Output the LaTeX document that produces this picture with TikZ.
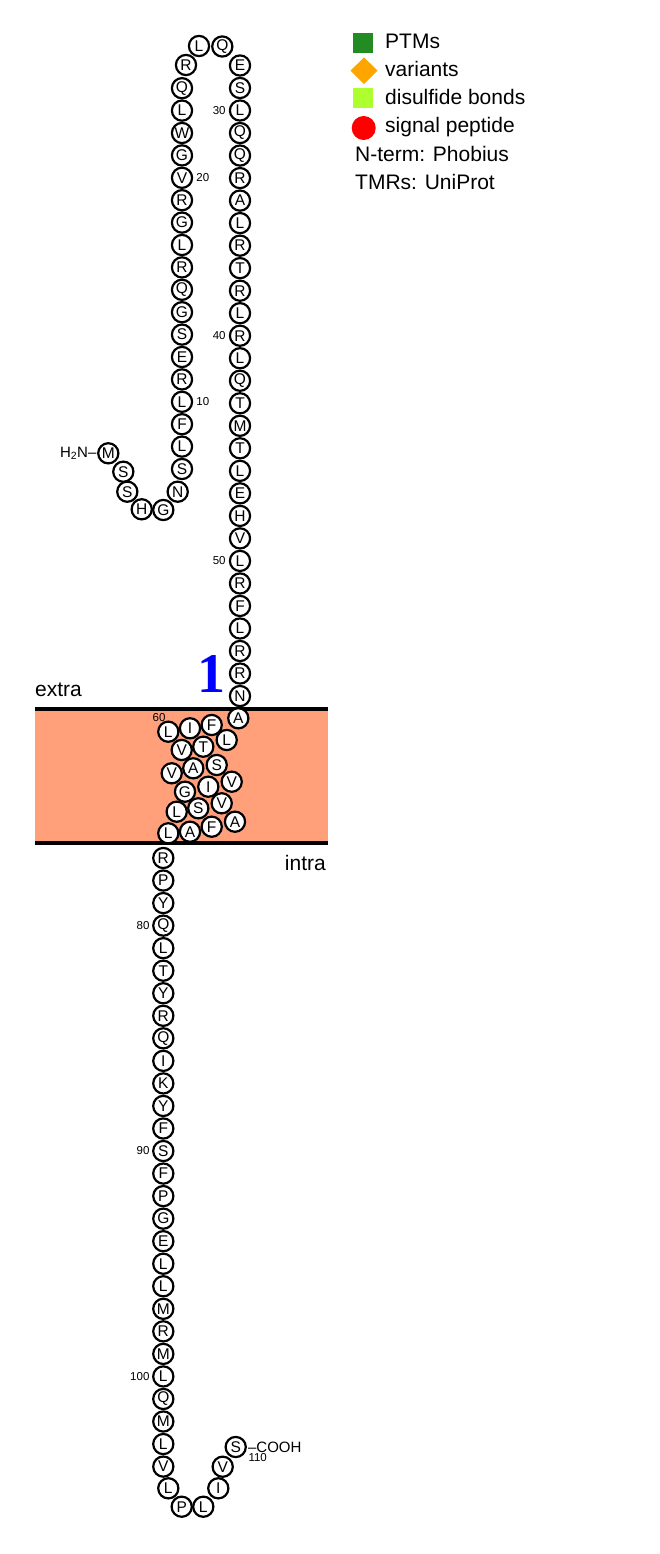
\documentclass[tikz,border=0pt]{standalone}
\usepackage{fontspec}
\setmainfont{Liberation Sans}
\newfontfamily\helixfont{Liberation Serif}
\usetikzlibrary{positioning}
\definecolor{membrane}{RGB}{255,160,122}
\definecolor{ptmgreen}{RGB}{34,139,34}
\definecolor{varorange}{RGB}{255,165,0}
\definecolor{sslime}{RGB}{173,255,47}
\definecolor{sigred}{RGB}{255,0,0}

\begin{document}
\begin{tikzpicture}[x=1pt,y=-1pt,
    res/.style={circle,draw,fill=white,line width=2.2pt,minimum size=20.2pt,inner sep=0pt,font=\fontsize{15.5}{15.5}\selectfont},
    num/.style={inner sep=0.5pt,font=\fontsize{11.5}{11.5}\selectfont},
    lgd/.style={anchor=base west,inner sep=0pt,font=\fontsize{21}{21}\selectfont}]
    \useasboundingbox (0,0) rectangle (660,1554);
    % membrane
    \fill[membrane] (35,708.7) rectangle (328,842.7);
    \draw[line width=4pt] (35,708.7) -- (328,708.7);
    \draw[line width=4pt] (35,842.7) -- (328,842.7);
    \node[lgd] (extra) at (35,696.5) {extra};
    \node[lgd,anchor=base east] (intra) at (326,870) {intra};
    \node[anchor=base,inner sep=0pt,text=blue,font=\helixfont\bfseries\fontsize{56}{56}\selectfont] (tm1) at (211,692.5) {1};
    % N-terminus and loops
    \foreach \i/\x/\y/\l in {1/108.3/453.3/M,2/123.3/471.7/S,3/127.3/491.7/S,4/141.7/509.3/H,5/163.3/510/G,6/177.7/491.7/N}
        \node[res] (r\i) at (\x,\y) {\l};
    \foreach \l [count=\i from 7] in {S,L,F,L,R,E,S,G,Q,R,L,G,R,V,G,W,L,Q}
        \node[res] (r\i) at (182,{469-(\i-7)*22.4}) {\l};
    \foreach \i/\x/\y/\l in {25/186/65/R,26/199/46/L,27/222.3/46.5/Q,28/240/65.5/E}
        \node[res] (r\i) at (\x,\y) {\l};
    \foreach \l [count=\i from 29] in {S,L,Q,Q,R,A,L,R,T,R,L,R,L,Q,T,M,T,L,E,H,V,L,R,F,L,R,R,N}
        \node[res] (r\i) at (240,{88+(\i-29)*22.52}) {\l};
    % helix
    \foreach \i/\x/\y/\l in {57/238.3/718.3/A,58/211.7/725/F,59/190/728.3/I,60/168.3/731.7/L,
        61/181.7/750/V,62/203.3/746.7/T,63/226.7/740/L,64/216.7/765/S,65/193.3/768.3/A,66/171.7/773.3/V,
        67/185/791.7/G,68/208.3/786.7/I,69/231.7/781.7/V,70/221.7/803.3/V,71/198.3/808.3/S,72/176.7/811.7/L,
        73/235/821.7/A,74/211.7/826.7/F,75/190/831.7/A,76/168.3/833.3/L}
        \node[res] (r\i) at (\x,\y) {\l};
    % C-terminus
    \foreach \l [count=\i from 77] in {R,P,Y,Q,L,T,Y,R,Q,I,K,Y,F,S,F,P,G,E,L,L,M,R,M,L,Q,M,L,V}
        \node[res] (r\i) at (163.3,{858+(\i-77)*22.54}) {\l};
    \foreach \i/\x/\y/\l in {105/168.3/1488.3/L,106/181.7/1506.7/P,107/203.3/1506.7/L,108/218.3/1488.3/I,109/222.7/1466.7/V,110/235.7/1447/S}
        \node[res] (r\i) at (\x,\y) {\l};
    % ends and numbers
    \node[inner sep=0pt,left=0.5pt of r1,font=\fontsize{15}{15}\selectfont] (nterm) {H\textsubscript{2}N–};
    \node[inner sep=0pt,right=1pt of r110,font=\fontsize{15}{15}\selectfont] (cterm) {–COOH};
    \node[num,right=2.5pt of r10] (n10) {10};
    \node[num,right=2.5pt of r20] (n20) {20};
    \node[num,left=2.5pt of r30] (n30) {30};
    \node[num,left=2.5pt of r40] (n40) {40};
    \node[num,left=2.5pt of r50] (n50) {50};
    \node[num] (n60) at (159,718) {60};
    \node[num,left=2pt of r80] (n80) {80};
    \node[num,left=2pt of r90] (n90) {90};
    \node[num,left=2pt of r100] (n100) {100};
    \node[num] (n110) at ([xshift=22pt,yshift=-11pt]r110.center) {110};
    % legend
    \fill[ptmgreen] (353.3,32.7) rectangle (373.3,52.7);
    \fill[varorange] (364,57.3) -- (377.5,70.7) -- (364,84) -- (350.5,70.7) -- cycle;
    \fill[sslime] (353.3,88.3) rectangle (373.3,108.3);
    \fill[sigred] (363.7,128) circle (12);
    \node[lgd] (lptm) at (385,48.5) {PTMs};
    \node[lgd] (lvar) at (385,76.5) {variants};
    \node[lgd] (lss) at (385,105) {disulfide bonds};
    \node[lgd] (lsig) at (385,133) {signal peptide};
    \node[lgd] (lnterm) at (355,161.7) {N-term: Phobius};
    \node[lgd] (ltmr) at (355,190) {TMRs: UniProt};
\end{tikzpicture}
\end{document}
